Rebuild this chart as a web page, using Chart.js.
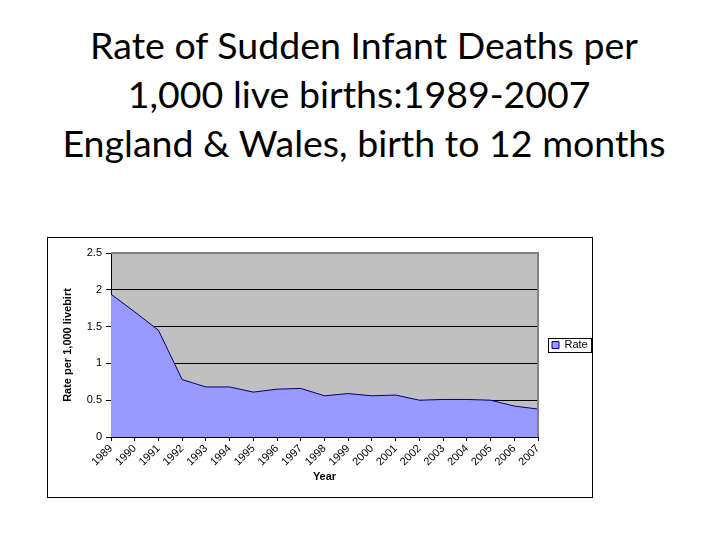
<!DOCTYPE html>
<html>
<head>
<meta charset="utf-8">
<script src="https://cdn.jsdelivr.net/npm/chart.js@4.4.1/dist/chart.umd.min.js"></script>
<style>
  body { margin: 0; background: #fff; width: 728px; height: 546px; position: relative; overflow: hidden; }
  #title {
    position: absolute; left: 0; top: 20px; width: 728px;
    text-align: center; font-family: Lato, "Open Sans", sans-serif;
    font-size: 37.5px; line-height: 49px; color: #000;
  }
  #frame {
    position: absolute; left: 47px; top: 237px; width: 544px; height: 259px;
    border: 1px solid #000;
  }
</style>
</head>
<body>
<div id="title">Rate of Sudden Infant Deaths per<br>1,000 live births:1989-2007&nbsp;<br>England &amp; Wales, birth to 12 months</div>
<div id="frame"><canvas id="myChart" width="544" height="259"></canvas></div>
<script>
    // values
    let years = ['1989','1990','1991','1992','1993','1994','1995','1996','1997','1998',
                 '1999','2000','2001','2002','2003','2004','2005','2006','2007'];
    let rate = [1.94, 1.70, 1.45, 0.78, 0.68, 0.68, 0.61, 0.65, 0.66, 0.56,
                0.59, 0.56, 0.57, 0.50, 0.51, 0.51, 0.50, 0.42, 0.38];
    let yTitle = 'Rate per 1,000 livebirt';
    let xTitle = 'Year';
    let seriesName = 'Rate';

    const FONT = '"Liberation Sans", Arial, sans-serif';

    // grey plot background + border around the plot
    const plotBg = {
        id: 'plotBg',
        beforeDraw(chart) {
            const a = chart.chartArea, c = chart.ctx;
            c.save();
            c.fillStyle = '#c0c0c0';
            c.fillRect(a.left, a.top, a.right - a.left, a.bottom - a.top);
            c.restore();
        },
        afterDatasetsDraw(chart) {
            const a = chart.chartArea, c = chart.ctx;
            c.save();
            c.strokeStyle = '#808080';
            c.lineWidth = 2;
            c.beginPath();
            c.moveTo(a.left, a.top);
            c.lineTo(a.right, a.top);
            c.lineTo(a.right, a.bottom);
            c.stroke();
            c.restore();
        }
    };

    // legend centred on the plot, with a black box round it
    const legendBox = {
        id: 'legendBox',
        afterLayout(chart) {
            chart.legend.top = chart.chartArea.top;
            chart.legend.bottom = chart.chartArea.bottom;
        },
        afterDraw(chart) {
            const hb = chart.legend.legendHitBoxes[0];
            if (!hb) return;
            const c = chart.ctx;
            c.save();
            c.strokeStyle = '#000';
            c.lineWidth = 1;
            c.strokeRect(Math.round(hb.left - 4) + 0.5, Math.round(hb.top - 2) + 0.5,
                         Math.round(hb.width + 7), Math.round(hb.height + 3));
            c.restore();
        }
    };

    new Chart(document.getElementById('myChart'), {
        type: 'line',
        data: {
            labels: years,
            datasets: [{
                label: seriesName,
                data: rate,
                fill: 'origin',
                backgroundColor: '#9999ff',
                borderColor: '#000080',
                borderWidth: 1,
                pointRadius: 0,
                tension: 0
            }]
        },
        options: {
            responsive: false,
            animation: false,
            layout: { padding: { left: 0, right: 0, top: 15, bottom: 0 } },
            plugins: {
                legend: {
                    position: 'right',
                    maxWidth: 54,
                    labels: {
                        boxWidth: 7, boxHeight: 7, padding: 14,
                        color: '#000',
                        font: { family: FONT, size: 11 }
                    }
                },
                tooltip: { enabled: false }
            },
            scales: {
                x: {
                    afterFit: s => { s.height = 60; },
                    grid: { display: true, drawOnChartArea: false, drawTicks: true, tickLength: 4, color: '#000', tickColor: '#000' },
                    border: { display: true, color: '#000', width: 1 },
                    ticks: {
                        autoSkip: false, minRotation: 45, maxRotation: 45, padding: 1,
                        color: '#000', font: { family: FONT, size: 11 }
                    },
                    title: {
                        display: true, text: xTitle, color: '#000',
                        font: { family: FONT, size: 11, weight: 'bold' },
                        padding: { top: 0, bottom: 13 }
                    }
                },
                y: {
                    min: 0, max: 2.5,
                    afterFit: s => { s.width = 63; },
                    grid: {
                        color: c => c.tick && c.tick.value === 2.5 ? 'rgba(0,0,0,0)' : '#000',
                        tickColor: '#000', tickLength: 5, lineWidth: 1
                    },
                    border: { display: true, color: '#000', width: 1 },
                    ticks: {
                        stepSize: 0.5, padding: 4,
                        callback: v => String(v),
                        color: '#000', font: { family: FONT, size: 11 }
                    },
                    title: {
                        display: true, text: yTitle, color: '#000',
                        font: { family: FONT, size: 11, weight: 'bold' },
                        padding: { top: 13, bottom: 0 }
                    }
                }
            }
        },
        plugins: [plotBg, legendBox]
    });
</script>
</body>
</html>
